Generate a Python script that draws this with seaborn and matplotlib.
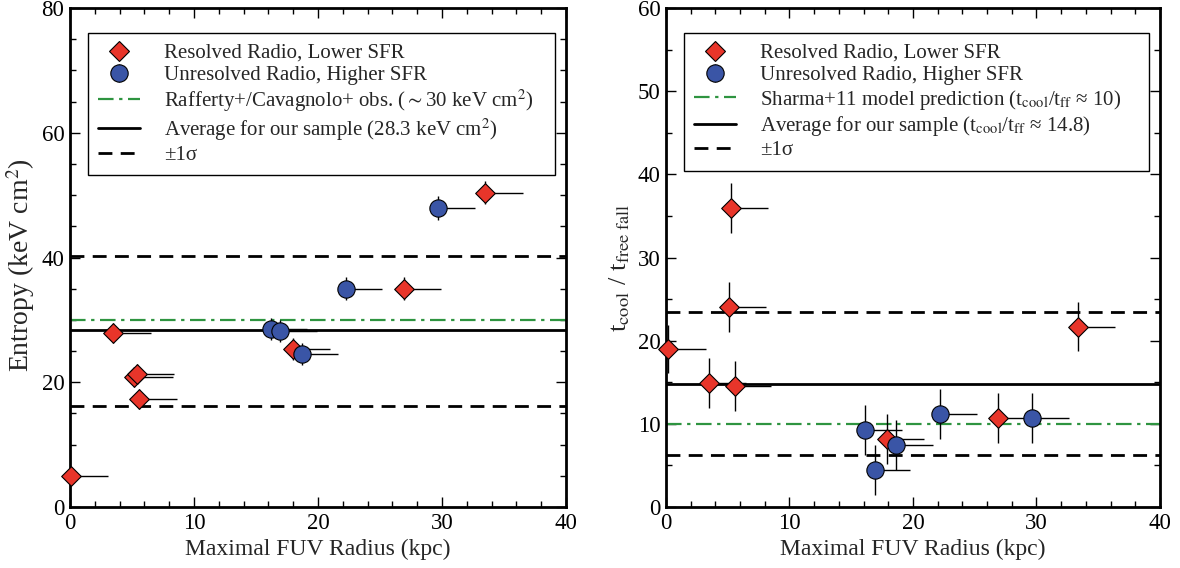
import numpy as np
import pandas as pd
import matplotlib
matplotlib.use('Agg')
import matplotlib.pyplot as plt
from matplotlib.lines import Line2D
from matplotlib.legend_handler import HandlerTuple
from matplotlib.ticker import MultipleLocator
import seaborn as sns

# 左图: 熵 vs FUV 半径
res_r_ent = [0.1, 3.5, 5.2, 5.4, 5.6, 18.0, 26.9, 33.5]
res_ent = [4.9, 27.9, 20.9, 21.3, 17.3, 25.3, 35.0, 50.4]
res_r_ent_err = [3.0, 3.0, 3.1, 3.0, 3.0, 3.0, 3.0, 3.0]
res_ent_err = [1.2, 1.6, 1.6, 1.6, 1.6, 1.8, 1.8, 1.9]

unres_r_ent = [16.2, 16.9, 18.7, 22.3, 29.7]
unres_ent = [28.5, 28.2, 24.5, 35.0, 47.9]
unres_r_ent_err = [2.9, 3.0, 2.9, 2.9, 3.0]
unres_ent_err = [1.8, 1.8, 1.8, 1.8, 1.9]

ent_obs = 30.0
ent_mean = 28.3
ent_sig = [16.2, 40.3]

# 右图: t_cool / t_ff
res_r_t = [0.2, 3.5, 5.6, 5.1, 5.3, 17.9, 26.9, 33.4]
res_t = [19.0, 14.9, 14.5, 24.0, 36.0, 8.2, 10.7, 21.7]
res_r_t_err = [3.0, 3.0, 2.9, 3.0, 3.0, 3.0, 3.0, 3.0]
res_t_err = [2.9, 3.0, 3.0, 3.0, 3.0, 3.0, 3.0, 3.0]

unres_r_t = [16.1, 16.9, 18.6, 22.2, 29.6]
unres_t = [9.25, 4.4, 7.5, 11.2, 10.7]
unres_r_t_err = [3.0, 2.9, 3.0, 3.0, 3.0]
unres_t_err = [3.0, 3.0, 3.0, 3.0, 3.0]

t_model = 10.0
t_mean = 14.8
t_sig = [6.2, 23.4]

sns.set_theme(style='ticks')
plt.rcParams['font.family'] = ['Liberation Serif', 'DejaVu Serif']
plt.rcParams['mathtext.fontset'] = 'stix'
plt.rcParams['font.size'] = 15

RED = '#e8352a'
BLUE = '#3a55a6'
GREEN = '#2e9440'
DASHDOT = (0, (7, 2.5, 1.5, 2.5))
DASH = (0, (5, 3))

fig = plt.figure(figsize=(11.8, 5.68), dpi=100)
ax1 = fig.add_axes([0.0593, 0.1074, 0.4203, 0.8785])
ax2 = fig.add_axes([0.5644, 0.1074, 0.4186, 0.8785])


def draw_panel(ax, rx, ry, rxe, rye, ux, uy, uxe, uye, ref, mean, sig):
    ax.axhline(ref, color=GREEN, lw=1.6, ls=DASHDOT, zorder=1)
    ax.axhline(mean, color='black', lw=2.0, zorder=1)
    for s in sig:
        ax.axhline(s, color='black', lw=2.0, ls=DASH, zorder=1)

    # 误差棒: x 方向只向右
    ax.errorbar(rx, ry, xerr=[np.zeros(len(rx)), rxe], yerr=rye,
                fmt='none', ecolor='black', elinewidth=1.0, capsize=0, zorder=2)
    ax.errorbar(ux, uy, xerr=[np.zeros(len(ux)), uxe], yerr=uye,
                fmt='none', ecolor='black', elinewidth=1.0, capsize=0, zorder=2)

    df = pd.DataFrame({
        'r': list(rx) + list(ux),
        'v': list(ry) + list(uy),
        'g': ['res'] * len(rx) + ['unres'] * len(ux),
    })
    sns.scatterplot(data=df[df.g == 'res'], x='r', y='v', ax=ax, marker='D',
                    s=100, color=RED, edgecolor='black', linewidth=0.8,
                    zorder=3, legend=False, clip_on=False)
    sns.scatterplot(data=df[df.g == 'unres'], x='r', y='v', ax=ax, marker='o',
                    s=155, color=BLUE, edgecolor='black', linewidth=0.8,
                    zorder=3, legend=False, clip_on=False)

    ax.set_xlim(0, 40)
    ax.xaxis.set_major_locator(MultipleLocator(10))
    ax.xaxis.set_minor_locator(MultipleLocator(2))
    ax.yaxis.set_minor_locator(MultipleLocator(5))
    ax.tick_params(which='both', direction='in', top=True, right=True,
                   labelsize=16.5, pad=4, colors='black')
    ax.tick_params(which='major', length=7, width=1.0)
    ax.tick_params(which='minor', length=4, width=1.0)
    for sp in ax.spines.values():
        sp.set_linewidth(2.0)
        sp.set_color('black')
    ax.set_xlabel('Maximal FUV Radius (kpc)', fontsize=17, labelpad=4)


draw_panel(ax1, res_r_ent, res_ent, res_r_ent_err, res_ent_err,
           unres_r_ent, unres_ent, unres_r_ent_err, unres_ent_err,
           ent_obs, ent_mean, ent_sig)
ax1.set_ylim(0, 80)
ax1.yaxis.set_major_locator(MultipleLocator(20))
ax1.set_ylabel(r'Entropy (keV cm$^2$)', fontsize=20)
ax1.yaxis.set_label_coords(-0.066, 0.485)

draw_panel(ax2, res_r_t, res_t, res_r_t_err, res_t_err,
           unres_r_t, unres_t, unres_r_t_err, unres_t_err,
           t_model, t_mean, t_sig)
ax2.set_ylim(0, 60)
ax2.yaxis.set_major_locator(MultipleLocator(10))
ax2.set_ylabel(r't$_{\rm cool}$ / t$_{\rm free\ fall}$', fontsize=19)
ax2.yaxis.set_label_coords(-0.068, 0.48)


def make_handles():
    bar = Line2D([], [], marker='|', ls='none', markersize=12.5,
                 markeredgecolor='black', markeredgewidth=1.0)
    return [
        (bar, Line2D([], [], marker='D', ls='none', markersize=10,
                     markerfacecolor=RED, markeredgecolor='black',
                     markeredgewidth=0.8)),
        (bar, Line2D([], [], marker='o', ls='none', markersize=12.5,
                     markerfacecolor=BLUE, markeredgecolor='black',
                     markeredgewidth=0.8)),
        Line2D([], [], color=GREEN, lw=1.6, ls=DASHDOT),
        Line2D([], [], color='black', lw=2.0),
        Line2D([], [], color='black', lw=2.0, ls=DASH),
    ]


labels1 = ['Resolved Radio, Lower SFR',
           'Unresolved Radio, Higher SFR',
           r'Rafferty+/Cavagnolo+ obs. ($\sim$30 keV cm$^2$)',
           r'Average for our sample (28.3 keV cm$^2$)',
           '±1σ']
labels2 = ['Resolved Radio, Lower SFR',
           'Unresolved Radio, Higher SFR',
           r'Sharma+11 model prediction (t$_{\rm cool}$/t$_{\rm ff}$ ≈ 10)',
           r'Average for our sample (t$_{\rm cool}$/t$_{\rm ff}$ ≈ 14.8)',
           '±1σ']

for ax, labels in [(ax1, labels1), (ax2, labels2)]:
    leg = ax.legend(make_handles(), labels, loc='upper left',
                    bbox_to_anchor=(0.036, 0.95, 0.942, 0.0), mode='expand',
                    borderaxespad=0, fontsize=15, handlelength=2.0,
                    handletextpad=1.15, labelspacing=0.12, borderpad=0.5,
                    fancybox=False, framealpha=1, edgecolor='black',
                    handler_map={tuple: HandlerTuple(ndivide=1)})
    leg.get_frame().set_linewidth(1.0)

fig.savefig('out.png', dpi=100)
